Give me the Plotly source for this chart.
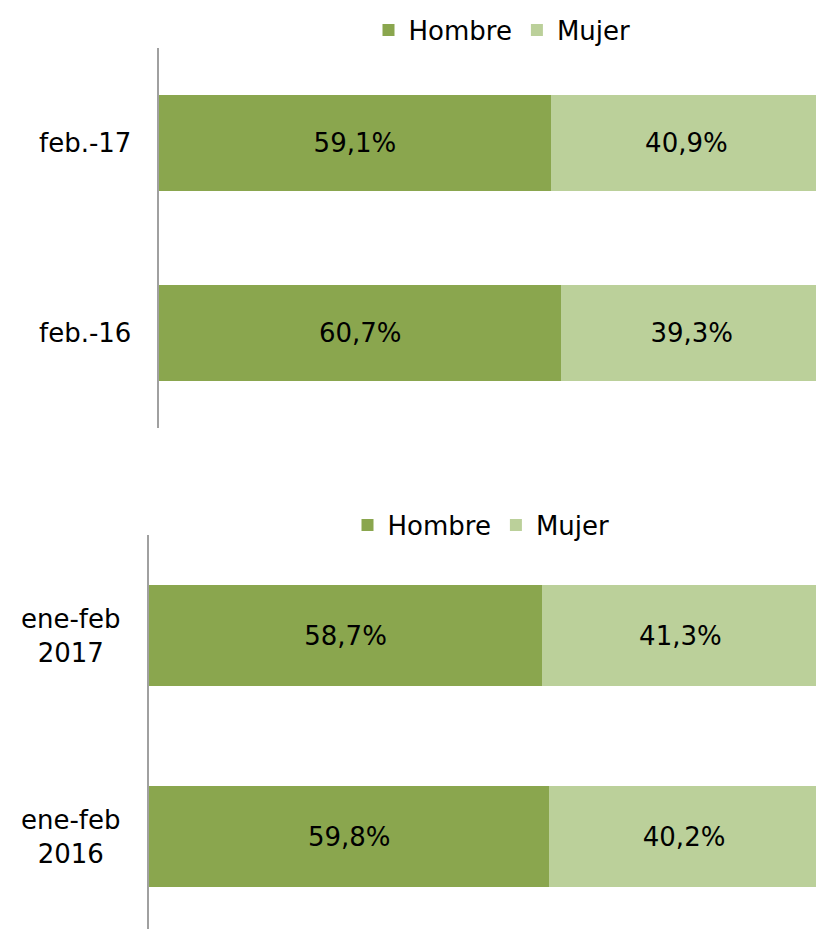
import plotly.graph_objects as go

# ---- data ----
cats_top = ["feb.-17", "feb.-16"]
hombre_top = [59.1, 60.7]
mujer_top = [40.9, 39.3]

cats_bot = ["ene-feb<br>2017", "ene-feb<br>2016"]
hombre_bot = [58.7, 59.8]
mujer_bot = [41.3, 40.2]

series_names = ["Hombre", "Mujer"]
colors = ["#8AA64E", "#BBD09A"]

FONT = "DejaVu Sans"
FS = 26
W, H = 816, 929


def lab(vals):
    return [f"{v:.1f}".replace(".", ",") + "%" for v in vals]


fig = go.Figure()

for i, (name, vals) in enumerate(zip(series_names, [hombre_top, mujer_top])):
    fig.add_trace(go.Bar(
        y=cats_top, x=vals, orientation="h", name=name,
        marker=dict(color=colors[i], line=dict(width=0)),
        text=lab(vals), textposition="inside", insidetextanchor="middle",
        textangle=0, textfont=dict(color="#000000", size=FS, family=FONT),
        xaxis="x", yaxis="y", legend="legend", hoverinfo="skip",
    ))

for i, (name, vals) in enumerate(zip(series_names, [hombre_bot, mujer_bot])):
    fig.add_trace(go.Bar(
        y=cats_bot, x=vals, orientation="h", name=name,
        marker=dict(color=colors[i], line=dict(width=0)),
        text=lab(vals), textposition="inside", insidetextanchor="middle",
        textangle=0, textfont=dict(color="#000000", size=FS, family=FONT),
        xaxis="x2", yaxis="y2", legend="legend2", hoverinfo="skip",
    ))

def px_x(p):
    return p / W

def px_y(p):
    return 1 - p / H

axis_line = dict(showline=True, linecolor="#A0A0A0", linewidth=2)

fig.update_layout(
    width=W, height=H,
    margin=dict(l=0, r=0, t=0, b=0),
    paper_bgcolor="white", plot_bgcolor="white",
    barmode="stack", bargap=0.495,
    font=dict(family=FONT, size=FS, color="#000000"),
    uniformtext=dict(minsize=FS, mode="show"),
    xaxis=dict(domain=[px_x(159), 1], range=[0, 99.1], showgrid=False,
               zeroline=False, showticklabels=False, showline=False, anchor="y"),
    yaxis=dict(domain=[px_y(428), px_y(48)], range=[1.5, -0.5],
               showticklabels=False, showgrid=False, zeroline=False,
               anchor="x", **axis_line),
    xaxis2=dict(domain=[px_x(149), 1], range=[0, 99.6], showgrid=False,
                zeroline=False, showticklabels=False, showline=False, anchor="y2"),
    yaxis2=dict(domain=[0, px_y(535)], range=[1.46, -0.5],
                showticklabels=False, showgrid=False, zeroline=False,
                anchor="x2", **axis_line),
    legend=dict(orientation="h", x=px_x(502), xanchor="center",
                y=px_y(30), yanchor="middle", traceorder="normal",
                font=dict(size=FS, family=FONT), itemwidth=30,
                bgcolor="rgba(0,0,0,0)"),
    legend2=dict(orientation="h", x=px_x(481), xanchor="center",
                 y=px_y(525), yanchor="middle", traceorder="normal",
                 font=dict(size=FS, family=FONT), itemwidth=30,
                 bgcolor="rgba(0,0,0,0)"),
    showlegend=True,
)

annotations = []
for c in cats_top:
    annotations.append(dict(text=c, x=px_x(133), xref="paper", xanchor="right",
                            y=c, yref="y", yanchor="middle", showarrow=False,
                            align="center", font=dict(size=FS, family=FONT)))
for c in cats_bot:
    annotations.append(dict(text=c, x=px_x(123), xref="paper", xanchor="right",
                            y=c, yref="y2", yanchor="middle", showarrow=False,
                            align="center", font=dict(size=FS, family=FONT)))
fig.update_layout(annotations=annotations)

fig.write_html(
    "out.html",
    config={"displayModeBar": False},
    post_script="document.body.style.margin='0';document.body.style.overflow='hidden';",
)
